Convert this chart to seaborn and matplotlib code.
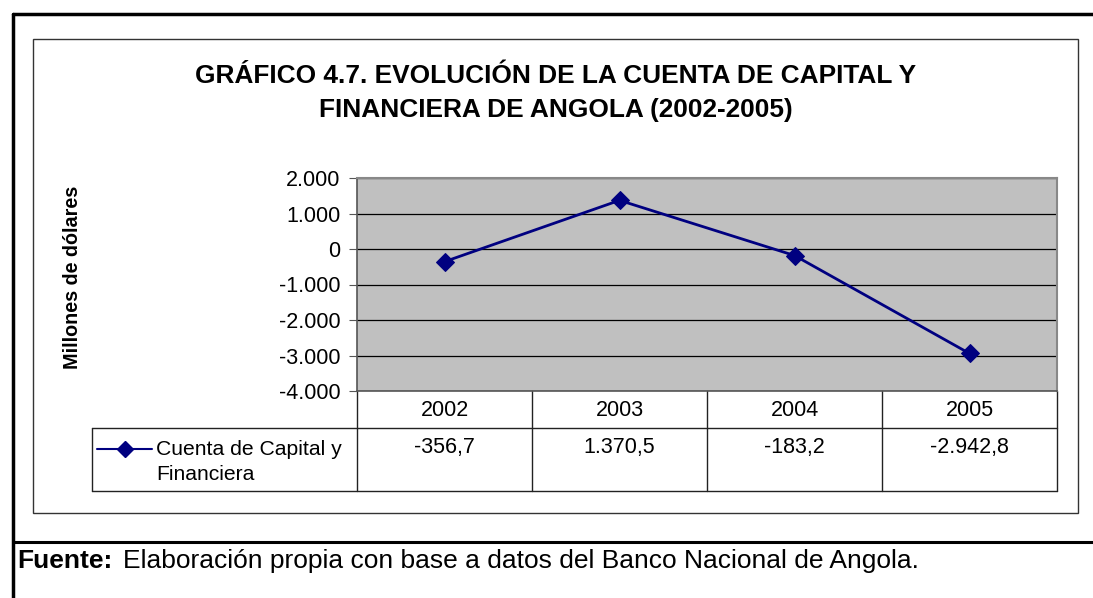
import matplotlib
matplotlib.use("Agg")
import matplotlib.pyplot as plt
import pandas as pd
import seaborn as sns
from matplotlib.lines import Line2D
from matplotlib.ticker import FuncFormatter

sns.set_theme(style="white")
plt.rcParams["font.family"] = ["Liberation Sans", "DejaVu Sans"]
plt.rcParams["text.color"] = "black"
plt.rcParams["ytick.color"] = "black"

years = ["2002", "2003", "2004", "2005"]
valores = [-356.7, 1370.5, -183.2, -2942.8]
etiquetas = ["-356,7", "1.370,5", "-183,2", "-2.942,8"]
serie = "Cuenta de Capital y\nFinanciera"
titulo = "GRÁFICO 4.7. EVOLUCIÓN DE LA CUENTA DE CAPITAL Y\nFINANCIERA DE ANGOLA (2002-2005)"
fuente = "Elaboración propia con base a datos del Banco Nacional de Angola."

W, H = 1093, 598
fig = plt.figure(figsize=(W / 100, H / 100), dpi=100)


def fx(px):
    return px / W


def fy(py):
    return 1 - py / H


# outer frame and separator
fig.add_artist(Line2D([fx(13), fx(W)], [fy(14), fy(14)], color="black", lw=2.5))
fig.add_artist(Line2D([fx(13), fx(13)], [fy(14), fy(H)], color="black", lw=2.5))
fig.add_artist(Line2D([fx(13), fx(W)], [fy(542), fy(542)], color="black", lw=2.2))

# chart box
box = plt.Rectangle((fx(33), fy(513)), fx(1078 - 33), (513 - 39) / H, transform=fig.transFigure,
                    fill=False, edgecolor="#333333", lw=1.0)
fig.add_artist(box)

fig.text(fx(556), fy(93), titulo, ha="center", va="center", fontsize=18.9, fontweight="bold",
         linespacing=1.55)

ax = fig.add_axes([fx(357), fy(391), fx(1057 - 357), (391 - 178) / H])
df = pd.DataFrame({"pos": range(len(years)), "valor": valores})
sns.lineplot(data=df, x="pos", y="valor", ax=ax, color="#000080", marker="D", markersize=9,
             markeredgecolor="#000080", lw=2)
ax.set_facecolor("#C0C0C0")
ax.set_xlim(-0.5, len(years) - 0.5)
ax.set_ylim(-4000, 2000)
ax.set_yticks(range(-4000, 2001, 1000))
ax.yaxis.set_major_formatter(FuncFormatter(lambda v, _: f"{int(v):,}".replace(",", ".")))
ax.grid(axis="y", color="black", lw=0.9)
ax.set_axisbelow(True)
ax.set_xticks([])
ax.set_xlabel("")
ax.set_ylabel("")
ax.tick_params(axis="y", labelsize=15.5, left=True, length=6, width=0.8, color="#555555", pad=6)
for s in ["left", "bottom"]:
    ax.spines[s].set_color("#555555")
    ax.spines[s].set_linewidth(1.2)
for s in ["top", "right"]:
    ax.spines[s].set_color("#888888")
    ax.spines[s].set_linewidth(1.5)

fig.text(fx(72), fy(277), "Millones de dólares", rotation=90, ha="center", va="center",
         fontsize=14.2, fontweight="bold")

# data table below the axis
tr = ax.transAxes
ah = (391 - 178)
y_hdr = (391 - 428) / ah
y_bot = (391 - 491) / ah
x_leg = (92 - 357) / 700
lc = "#222222"
n = len(years)
for i in range(n + 1):
    ax.add_line(Line2D([i / n, i / n], [0, y_bot], transform=tr, color=lc, lw=1, clip_on=False))
ax.add_line(Line2D([x_leg, 1], [y_hdr, y_hdr], transform=tr, color=lc, lw=1, clip_on=False))
ax.add_line(Line2D([x_leg, 1], [y_bot, y_bot], transform=tr, color=lc, lw=1, clip_on=False))
ax.add_line(Line2D([x_leg, x_leg], [y_hdr, y_bot], transform=tr, color=lc, lw=1, clip_on=False))
for i, (yr, lab) in enumerate(zip(years, etiquetas)):
    ax.text((i + 0.5) / n, (391 - 410) / ah, yr, transform=tr, ha="center", va="center", fontsize=15.5)
    ax.text((i + 0.5) / n, (391 - 448) / ah, lab, transform=tr, ha="center", va="center", fontsize=15.5)

# legend key inside the table
ax.add_line(Line2D([(97 - 357) / 700, (152 - 357) / 700], [(391 - 449) / ah] * 2, transform=tr,
                   color="#000080", lw=1.5, clip_on=False))
ax.add_line(Line2D([(125 - 357) / 700], [(391 - 449) / ah], transform=tr, color="#000080",
                   marker="D", markersize=8, clip_on=False))
ax.text((156 - 357) / 700, (391 - 462) / ah, serie, transform=tr, ha="left", va="center", fontsize=15.2,
        linespacing=1.45)

fig.text(fx(17), fy(568), "Fuente:", fontsize=19, fontweight="bold", ha="left", va="baseline")
fig.text(fx(123), fy(568), fuente, fontsize=19, ha="left", va="baseline")

fig.savefig("out.png", dpi=100)
